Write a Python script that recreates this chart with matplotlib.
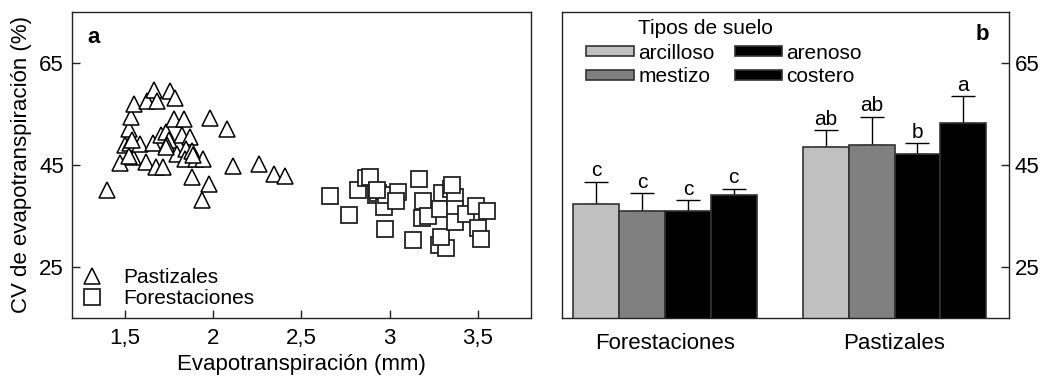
import numpy as np
import matplotlib
matplotlib.use("Agg")
import matplotlib.pyplot as plt

plt.rcParams['font.family'] = ['Liberation Sans', 'DejaVu Sans']

# panel a: evapotranspiracion vs CV
past_x = [1.396, 1.472, 1.547, 1.619, 1.675, 1.713, 1.500, 1.528, 1.585, 1.657,
          1.523, 1.534, 1.551, 1.626, 1.666, 1.679, 1.755, 1.783, 1.702, 1.732,
          1.751, 1.736, 1.779, 1.836, 1.821, 1.868, 1.792, 1.845, 1.841, 1.902,
          1.943, 1.877, 1.977, 1.938, 1.981, 2.075, 2.113, 2.258, 2.343, 2.405,
          1.519, 1.538, 1.877, 1.887, 1.730]
past_y = [40.0, 45.4, 46.5, 45.5, 44.5, 44.6, 48.8, 49.3, 49.1, 49.3,
          52.0, 54.4, 57.0, 57.6, 59.6, 57.6, 59.4, 58.0, 50.8, 51.4,
          49.9, 48.8, 53.9, 53.9, 50.8, 50.4, 47.2, 48.2, 46.2, 46.2,
          46.2, 42.6, 41.3, 38.1, 54.2, 52.0, 44.7, 45.1, 43.3, 42.8,
          46.7, 49.9, 47.8, 46.9, 48.5]
fore_x = [2.664, 2.769, 2.820, 2.864, 2.890, 2.920, 2.934, 2.966, 2.971, 2.981,
          3.047, 3.038, 3.132, 3.164, 3.188, 3.185, 3.217, 3.279, 3.320, 3.292,
          3.298, 3.349, 3.287, 3.368, 3.368, 3.368, 3.434, 3.490, 3.553, 3.500,
          3.519, 3.355, 2.930]
fore_y = [38.9, 35.1, 40.1, 42.5, 42.6, 39.0, 39.4, 36.7, 32.5, 39.0,
          39.7, 37.9, 30.2, 42.2, 37.9, 34.6, 34.9, 29.2, 28.7, 30.9,
          39.5, 40.3, 36.4, 38.7, 36.4, 33.8, 35.3, 36.9, 36.0, 32.7,
          30.4, 41.0, 40.1]
xticks_a = [1.5, 2, 2.5, 3, 3.5]
xticklabels_a = ['1,5', '2', '2,5', '3', '3,5']
yticks = [25, 45, 65]

# panel b: CV medio por tipo de suelo
grupos = ['Forestaciones', 'Pastizales']
suelos = ['arcilloso', 'mestizo', 'arenoso', 'costero']
cv_fore = [37.3, 35.9, 35.9, 39.0]
err_fore = [4.4, 3.6, 2.2, 1.3]
cv_past = [48.4, 48.9, 47.2, 53.1]
err_past = [3.4, 5.5, 2.1, 5.3]
letras_fore = ['c', 'c', 'c', 'c']
letras_past = ['ab', 'ab', 'b', 'a']
colores = ['#c0c0c0', '#808080', '#000000', '#000000']

fig = plt.figure(figsize=(10.43, 3.81), dpi=100)
ax1 = fig.add_axes([0.0693, 0.1654, 0.4395, 0.8039])
ax2 = fig.add_axes([0.5384, 0.1654, 0.4293, 0.8039])

edge = '#222222'
for ax in (ax1, ax2):
    for s in ax.spines.values():
        s.set_linewidth(1.0)
        s.set_color(edge)
    ax.set_ylim(15, 75)
    ax.set_yticks(yticks)
    ax.tick_params(direction='in', length=6, width=1.0, color=edge, labelsize=16)

# --- panel a ---
ax1.plot(past_x, past_y, ls='none', marker='^', ms=11.5, mfc='white',
         mec='black', mew=1.1, label='Pastizales')
ax1.plot(fore_x, fore_y, ls='none', marker='s', ms=11.0, mfc='white',
         mec='#222222', mew=1.3, label='Forestaciones')
ax1.set_xlim(1.2, 3.8)
ax1.set_xticks(xticks_a)
ax1.set_xticklabels(xticklabels_a)
ax1.tick_params(axis='x', pad=7)
ax1.tick_params(axis='y', pad=6)
ax1.set_xlabel('Evapotranspiración (mm)', fontsize=16, labelpad=4)
ax1.set_ylabel('CV de evapotranspiración (%)', fontsize=16, labelpad=5)
ax1.text(0.032, 0.915, 'a', transform=ax1.transAxes, fontsize=16,
         fontweight='bold', va='center', ha='left')
ax1.legend(loc='lower left', bbox_to_anchor=(0.021, 0.032), frameon=False,
           fontsize=15, borderpad=0, borderaxespad=0, handlelength=1.0,
           handletextpad=1.0, labelspacing=0.1, numpoints=1)

# --- panel b ---
ancho = 0.2
pos = np.arange(len(grupos))
for i, suelo in enumerate(suelos):
    xs = pos + (i - 1.5) * ancho
    vals = [cv_fore[i], cv_past[i]]
    errs = [err_fore[i], err_past[i]]
    ax2.bar(xs, vals, width=ancho, color=colores[i], edgecolor='#333333',
            linewidth=1.2, label=suelo, zorder=2)
    ax2.errorbar(xs, vals, yerr=[[0, 0], errs], fmt='none', ecolor='black',
                 elinewidth=1.0, capsize=8.3, capthick=1.0, zorder=1)
    for x, v, e, l in zip(xs, vals, errs, [letras_fore[i], letras_past[i]]):
        ax2.annotate(l, (x, v + e), xytext=(0, 1.0), textcoords='offset points',
                     ha='center', va='bottom', fontsize=15)

ax2.set_xlim(-0.45, 1.5)
ax2.set_xticks(pos)
ax2.set_xticklabels(grupos)
ax2.tick_params(axis='x', length=0, pad=11)
ax2.yaxis.tick_right()
ax2.tick_params(axis='y', direction='in', pad=4)
ax2.text(0.955, 0.925, 'b', transform=ax2.transAxes, fontsize=16,
         fontweight='bold', va='center', ha='right')
ax2.text(0.171, 0.946, 'Tipos de suelo', transform=ax2.transAxes,
         fontsize=15, va='center', ha='left')
ax2.legend(loc='upper left', bbox_to_anchor=(0.0547, 0.896), ncol=2,
           frameon=False, fontsize=15, borderpad=0, borderaxespad=0,
           handlelength=2.3, handleheight=0.38, handletextpad=0.2,
           labelspacing=0.22, columnspacing=0.96)

fig.savefig('out.png', dpi=100)
